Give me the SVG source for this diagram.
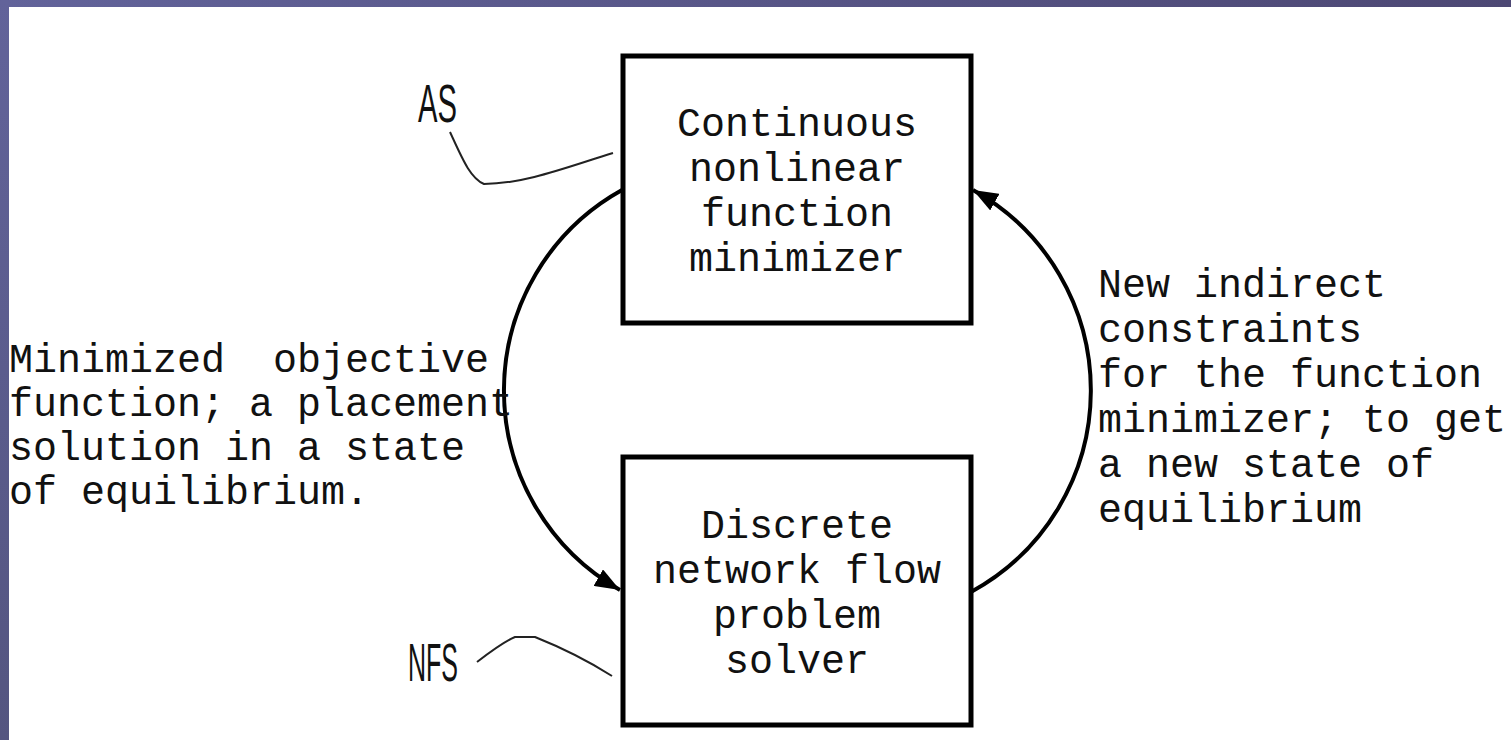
<svg xmlns="http://www.w3.org/2000/svg" width="1511" height="740" viewBox="0 0 1511 740">
  <defs>
    <linearGradient id="topband" x1="0" y1="0" x2="1" y2="0">
      <stop offset="0" stop-color="#62639a"/>
      <stop offset="1" stop-color="#4d4874"/>
    </linearGradient>
    <linearGradient id="leftband" x1="0" y1="0" x2="0" y2="1">
      <stop offset="0" stop-color="#62639a"/>
      <stop offset="1" stop-color="#545580"/>
    </linearGradient>
    <marker id="arrow" markerUnits="userSpaceOnUse" viewBox="0 0 25 19" refX="25" refY="9.5" markerWidth="25" markerHeight="19" orient="auto">
      <path d="M0,0 L25,9.5 L0,19 z" fill="#000"/>
    </marker>
  </defs>
  <style>
    .box { fill: #fff; stroke: #000; stroke-width: 5; }
    .mono { font-family: "Liberation Mono", "Courier New", monospace; font-size: 40px; fill: #111; }
    .mid { text-anchor: middle; }
    .tag { font-family: "Liberation Sans", Arial, sans-serif; font-size: 54px; fill: #111; }
    .arc { fill: none; stroke: #000; stroke-width: 4; }
    .lead { fill: none; stroke: #222; stroke-width: 2; }
  </style>

  <rect x="0" y="0" width="1511" height="740" fill="#fff"/>
  <rect x="0" y="0" width="1511" height="7" fill="url(#topband)"/>
  <rect x="0" y="0" width="9" height="740" fill="url(#leftband)"/>

  <g id="connectors">
    <path class="arc" d="M622,190 A229.4,229.4 0 0 0 620,590" marker-end="url(#arrow)"/>
    <path class="arc" d="M971,592 A229.4,229.4 0 0 0 973,190" marker-end="url(#arrow)"/>
    <path class="lead" d="M450,132 C462,158 470,178 484,184 C525,184 570,166 613,153"/>
    <path class="lead" d="M477,662 C490,652 503,642 515,637 L535,637 C560,647 590,662 612,676"/>
  </g>

  <g id="node-as">
    <rect class="box" x="623" y="56" width="348" height="267"/>
    <text class="mono mid" x="797" y="136">Continuous</text>
    <text class="mono mid" x="797" y="181">nonlinear</text>
    <text class="mono mid" x="797" y="226">function</text>
    <text class="mono mid" x="797" y="271">minimizer</text>
  </g>

  <g id="node-nfs">
    <rect class="box" x="623" y="457" width="348" height="268"/>
    <text class="mono mid" x="797" y="538">Discrete</text>
    <text class="mono mid" x="797" y="583">network flow</text>
    <text class="mono mid" x="797" y="628">problem</text>
    <text class="mono mid" x="797" y="673">solver</text>
  </g>

  <g id="label-as">
    <text class="tag" x="418" y="122" textLength="39" lengthAdjust="spacingAndGlyphs">AS</text>
  </g>
  <g id="label-nfs">
    <text class="tag" x="408" y="681" textLength="50" lengthAdjust="spacingAndGlyphs">NFS</text>
  </g>

  <g id="label-left">
    <text class="mono" x="9" y="372" xml:space="preserve">Minimized  objective</text>
    <text class="mono" x="9" y="416">function; a placement</text>
    <text class="mono" x="9" y="460">solution in a state</text>
    <text class="mono" x="9" y="504">of equilibrium.</text>
  </g>

  <g id="label-right">
    <text class="mono" x="1098" y="297">New indirect</text>
    <text class="mono" x="1098" y="342">constraints</text>
    <text class="mono" x="1098" y="387">for the function</text>
    <text class="mono" x="1098" y="432">minimizer; to get</text>
    <text class="mono" x="1098" y="477">a new state of</text>
    <text class="mono" x="1098" y="522">equilibrium</text>
  </g>
</svg>
